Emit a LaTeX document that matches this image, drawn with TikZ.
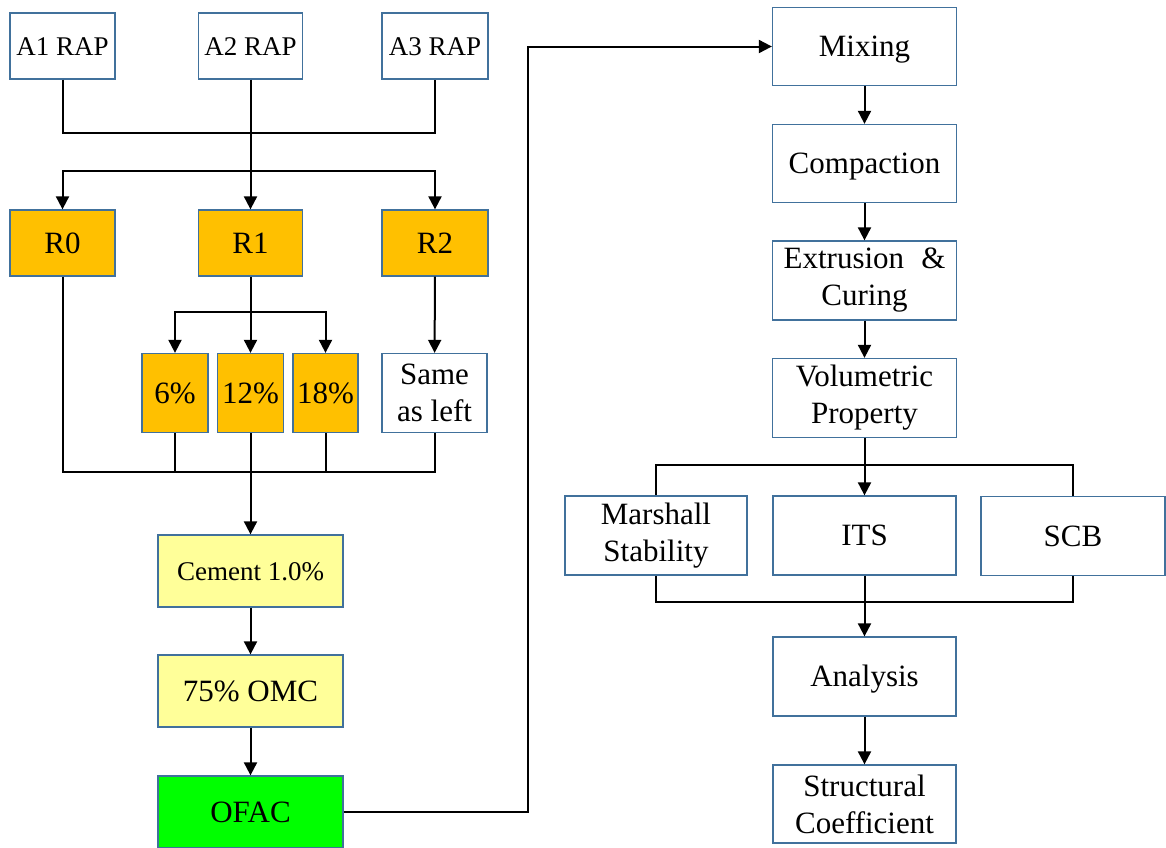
\documentclass[tikz,border=0pt]{standalone}
\usepackage[]{xcolor}
\usepackage{fontspec}
\setmainfont{Liberation Serif}
\usetikzlibrary{arrows.meta}

\definecolor{boxblue}{HTML}{41719C}
\definecolor{rapfill}{HTML}{FFC000}
\definecolor{cemfill}{HTML}{FFFF99}
\definecolor{ofacfill}{HTML}{00FF00}

\begin{document}
\begin{tikzpicture}[
            x=1pt, y=-1pt,
            stage/.style={rectangle, draw=boxblue, line width=1.3pt, fill=white, inner sep=0pt, align=center, font=\fontsize{31}{37}\selectfont, text height=27.5pt, text depth=6.7pt},
            twoline/.style={text height=, text depth=},
            smallstage/.style={stage, font=\fontsize{27}{32}\selectfont, text height=24pt, text depth=5.8pt},
            rapbox/.style={stage, fill=rapfill},
            cembox/.style={stage, fill=cemfill},
            arrow/.style={-{Triangle[length=13pt,width=13pt]}, line width=2pt},
            link/.style={line width=2pt}
        ]
            \useasboundingbox (0,0) rectangle (1166,847);

            \node[smallstage, minimum width=105pt, minimum height=66pt] (A1) at (62.5,46) {A1 RAP};
            \node[smallstage, minimum width=104pt, minimum height=66pt] (A2) at (250.5,46) {A2 RAP};
            \node[smallstage, minimum width=106pt, minimum height=66pt] (A3) at (435,46) {A3 RAP};

            \node[rapbox, minimum width=105pt, minimum height=66pt] (R0) at (62.5,243) {R0};
            \node[rapbox, minimum width=104pt, minimum height=66pt] (R1) at (250.5,243) {R1};
            \node[rapbox, minimum width=106pt, minimum height=66pt] (R2) at (435,243) {R2};

            \node[rapbox, minimum width=66pt, minimum height=79pt] (P6) at (175,393) {6\%};
            \node[rapbox, minimum width=66pt, minimum height=79pt] (P12) at (250.5,393) {12\%};
            \node[rapbox, minimum width=65pt, minimum height=79pt] (P18) at (325.5,393) {18\%};
            \node[stage, twoline, minimum width=105pt, minimum height=79pt] (Same) at (434.5,393) {Same\\as left};

            \node[cembox, smallstage, fill=cemfill, minimum width=185pt, minimum height=72pt] (Cem) at (250.5,571) {Cement 1.0\%};
            \node[cembox, minimum width=185pt, minimum height=72pt] (OMC) at (250.5,691) {75\% OMC};
            \node[stage, fill=ofacfill, minimum width=185pt, minimum height=72pt] (OFAC) at (250.5,812) {OFAC};

            \node[stage, minimum width=184pt, minimum height=78pt] (Mix) at (864.5,46.5) {Mixing};
            \node[stage, minimum width=184pt, minimum height=78pt] (Comp) at (864.5,163.5) {Compaction};
            \node[stage, twoline, minimum width=184pt, minimum height=79pt] (Ext) at (864.5,280.5) {Extrusion\hspace{0.3em} \&\\Curing};
            \node[stage, twoline, minimum width=184pt, minimum height=79pt] (Vol) at (864.5,398) {Volumetric\\Property};

            \node[stage, twoline, minimum width=182pt, minimum height=79pt] (MS) at (656,535.5) {Marshall\\Stability};
            \node[stage, minimum width=183pt, minimum height=79pt] (ITS) at (864.5,535.5) {ITS};
            \node[stage, minimum width=184pt, minimum height=79pt] (SCB) at (1073,536) {SCB};

            \node[stage, minimum width=183pt, minimum height=79pt] (Ana) at (864.5,676.5) {Analysis};
            \node[stage, twoline, minimum width=183pt, minimum height=78pt] (SC) at (864.5,804) {Structural\\Coefficient};

            \coordinate (jA) at (250.5,133);
            \coordinate (jB) at (250.5,171);
            \coordinate (jR) at (250.5,312);
            \coordinate (jC) at (250.5,472);
            \coordinate (turn) at (528,46.5);
            \coordinate (jT) at (864.5,465);
            \coordinate (jD) at (864.5,602);

            \draw[link] (A1) |- (jA) -| (A3);
            \draw[arrow] (A2) -- (R1);
            \draw[arrow] (jB) -| (R0);
            \draw[arrow] (jB) -| (R2);

            \draw[arrow] (R1) -- (P12);
            \draw[arrow] (jR) -| (P6);
            \draw[arrow] (jR) -| (P18);
            \draw[arrow] (R2) -- (Same);

            \draw[link] (R0) |- (jC) -| (Same);
            \draw[link] (P6) |- (jC);
            \draw[link] (P18) |- (jC);
            \draw[arrow] (P12) -- (Cem);
            \draw[arrow] (Cem) -- (OMC);
            \draw[arrow] (OMC) -- (OFAC);
            \draw[arrow] (OFAC.east) -| (turn) -- (Mix);

            \draw[arrow] (Mix) -- (Comp);
            \draw[arrow] (Comp) -- (Ext);
            \draw[arrow] (Ext) -- (Vol);
            \draw[arrow] (Vol) -- (ITS);
            \draw[link] (jT) -| (MS);
            \draw[link] (jT) -| (SCB);
            \draw[link] (MS) |- (jD) -| (SCB);
            \draw[arrow] (ITS) -- (Ana);
            \draw[arrow] (Ana) -- (SC);
        \end{tikzpicture}
\end{document}
